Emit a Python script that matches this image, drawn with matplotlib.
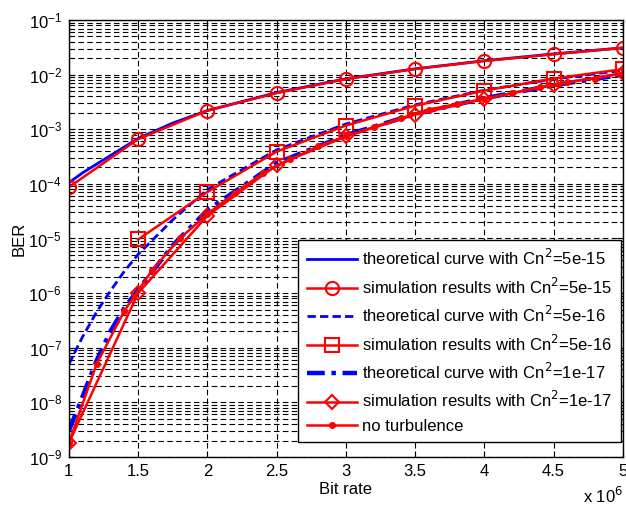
import numpy as np
import matplotlib.pyplot as plt
from matplotlib.ticker import LogLocator, NullFormatter, FixedLocator

plt.rcParams['font.family'] = ['Liberation Sans', 'DejaVu Sans']

# bit rate in units of 1e6
x_sim = [1.0, 1.5, 2.0, 2.5, 3.0, 3.5, 4.0, 4.5, 5.0]

# theoretical curves
x_th1 = [1.0, 1.1, 1.2, 1.3, 1.5, 1.75, 2.0, 2.5, 3.0, 3.5, 4.0, 4.5, 5.0]
th_5e15 = [1.05e-4, 1.6e-4, 2.3e-4, 3.3e-4, 6.8e-4, 1.3e-3, 2.2e-3, 4.7e-3,
           8.4e-3, 1.28e-2, 1.8e-2, 2.4e-2, 3.1e-2]

x_th2 = [1.0, 1.1, 1.2, 1.3, 1.4, 1.5, 1.75, 2.0, 2.5, 3.0, 3.5, 4.0, 4.5, 5.0]
th_5e16 = [5e-8, 1.6e-7, 4.5e-7, 1.1e-6, 2.5e-6, 5.1e-6, 2.2e-5, 7.9e-5,
           4.2e-4, 1.25e-3, 2.8e-3, 5.2e-3, 8.3e-3, 1.2e-2]

x_th3 = [1.0, 1.1, 1.2, 1.3, 1.4, 1.5, 1.75, 2.0, 2.5, 3.0, 3.5, 4.0, 4.5, 5.0]
th_1e17 = [3.0e-9, 1.3e-8, 5.8e-8, 2.0e-7, 5.3e-7, 1.15e-6, 7.5e-6, 3.3e-5,
           2.4e-4, 7.8e-4, 1.9e-3, 3.7e-3, 6.4e-3, 1.0e-2]

# simulation results
sim_5e15 = [8.7e-5, 6.6e-4, 2.2e-3, 4.6e-3, 8.3e-3, 1.27e-2, 1.78e-2, 2.36e-2, 3.1e-2]
x_sq = [1.5, 2.0, 2.5, 3.0, 3.5, 4.0, 4.5, 5.0]
sim_5e16 = [9.6e-6, 7.1e-5, 3.9e-4, 1.17e-3, 2.7e-3, 5.1e-3, 8.5e-3, 1.26e-2]
sim_1e17 = [1.8e-9, 1.0e-6, 2.6e-5, 2.2e-4, 7.4e-4, 1.85e-3, 3.6e-3, 6.5e-3, 1.07e-2]

# no turbulence
x_nt = [1.0, 1.2, 1.4, 1.6, 1.8, 2.0, 2.2, 2.4, 2.6, 2.8, 3.0,
        3.2, 3.4, 3.6, 3.8, 4.0, 4.2, 4.4, 4.6, 4.8, 5.0]
no_turb = [1.8e-9, 5e-8, 4.7e-7, 2.6e-6, 1.0e-5, 2.8e-5, 6.9e-5, 1.55e-4,
           2.8e-4, 4.9e-4, 7.4e-4, 1.1e-3, 1.6e-3, 2.3e-3, 2.9e-3, 3.6e-3,
           4.6e-3, 5.9e-3, 7.4e-3, 8.5e-3, 1.07e-2]

fig = plt.figure(figsize=(6.26, 5.14), dpi=100)
ax = fig.add_axes([0.110, 0.111, 0.885, 0.850])

ax.semilogy(x_th1, th_5e15, color='blue', lw=2,
            label='theoretical curve with Cn$^2$=5e-15')
ax.semilogy(x_sim, sim_5e15, color='red', lw=1.8, marker='o', ms=9.5,
            mfc='none', mew=1.5, label='simulation results with Cn$^2$=5e-15')
ax.semilogy(x_th2, th_5e16, color='blue', lw=2, ls=(0, (3, 1.5)),
            label='theoretical curve with Cn$^2$=5e-16')
ax.semilogy(x_sq, sim_5e16, color='red', lw=1.8, marker='s', ms=9.5,
            mfc='none', mew=1.5, label='simulation results with Cn$^2$=5e-16')
ax.semilogy(x_th3, th_1e17, color='blue', lw=3.2, ls=(0, (4, 1.5, 1, 1.5)),
            label='theoretical curve with Cn$^2$=1e-17')
ax.semilogy(x_sim, sim_1e17, color='red', lw=1.8, marker='D', ms=7,
            mfc='none', mew=1.5, label='simulation results with Cn$^2$=1e-17')
ax.semilogy(x_nt, no_turb, color='red', lw=1.8, marker='o', ms=4,
            label='no turbulence')

ax.set_xlim(1, 5)
ax.set_ylim(1e-9, 1e-1)
ax.xaxis.set_major_locator(FixedLocator([1, 1.5, 2, 2.5, 3, 3.5, 4, 4.5, 5]))
ax.set_xticklabels(['1', '1.5', '2', '2.5', '3', '3.5', '4', '4.5', '5'])
ax.yaxis.set_major_locator(LogLocator(base=10, numticks=20))
ax.yaxis.set_minor_locator(LogLocator(base=10, subs=np.arange(2, 10), numticks=100))
ax.yaxis.set_minor_formatter(NullFormatter())
ax.xaxis.get_offset_text().set_visible(False)
ax.yaxis.get_offset_text().set_visible(False)

gls = (0, (5, 3))
ax.grid(True, which='major', axis='both', color='black', lw=0.8, ls=gls)
ax.grid(True, which='minor', axis='y', color='black', lw=0.8, ls=gls)
ax.tick_params(which='both', direction='in', top=True, right=True,
               labelsize=12, length=4, width=0.8, pad=5)
ax.tick_params(which='minor', length=2)
for s in ax.spines.values():
    s.set_linewidth(1.0)

ax.set_xlabel('Bit rate', fontsize=12, labelpad=2)
ax.set_ylabel('BER', fontsize=12, labelpad=1)
fig.text(0.932, 0.022, 'x 10$^6$', fontsize=12)

leg = ax.legend(loc='lower right', bbox_to_anchor=(0.9964, 0.034),
                borderaxespad=0, fontsize=12, handlelength=3.0,
                fancybox=False, framealpha=1, edgecolor='black',
                labelspacing=0.5, handletextpad=0.35, borderpad=0.5)
leg.get_frame().set_linewidth(1.0)

fig.savefig('out.png', dpi=100)
